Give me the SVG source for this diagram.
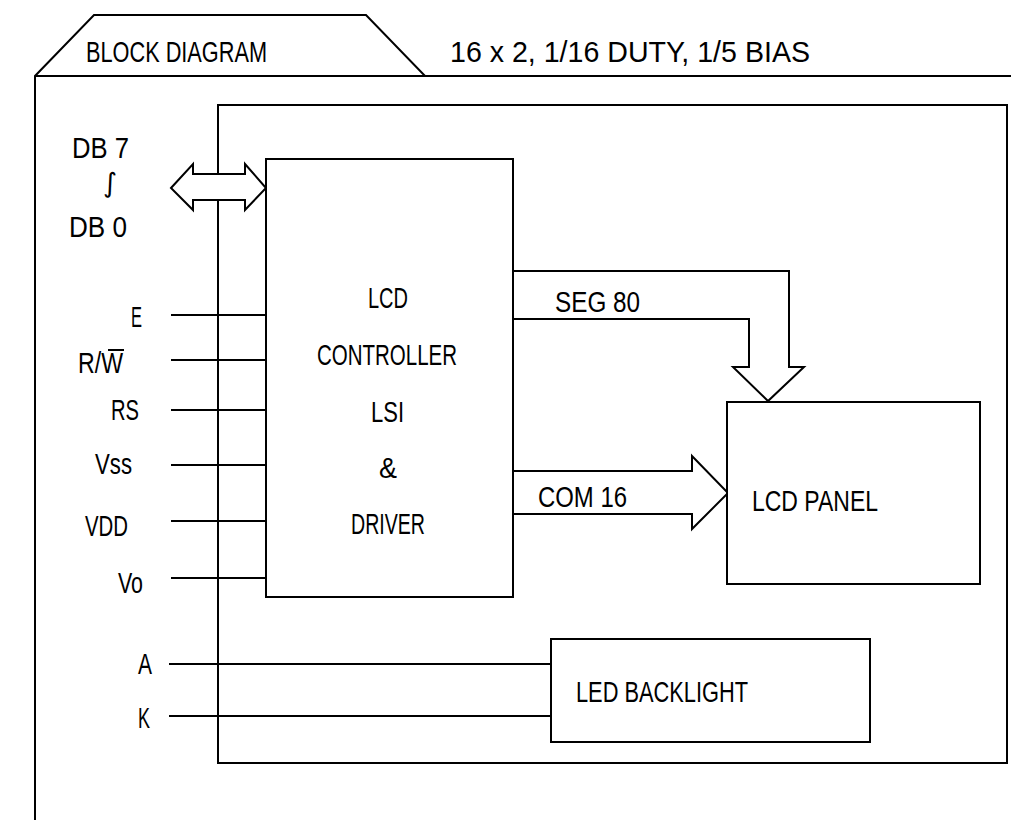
<svg xmlns="http://www.w3.org/2000/svg" width="1011" height="820" viewBox="0 0 1011 820">
<style>
.ln{fill:none;stroke:#000;stroke-width:2;stroke-linejoin:miter}
.bx{fill:#fff;stroke:#000;stroke-width:2}
text{font-family:"Liberation Sans",Arial,sans-serif;font-size:29px;fill:#000}
</style>
<rect width="1011" height="820" fill="#fff"/>
<g id="frame">
<path class="ln" d="M35,820 V76 L94,15 H366 L425,76 H1011 M35,76 H425"/>
<text x="86" y="62" textLength="181" lengthAdjust="spacingAndGlyphs">BLOCK DIAGRAM</text>
<text x="450" y="62" textLength="360" lengthAdjust="spacingAndGlyphs">16 x 2, 1/16 DUTY, 1/5 BIAS</text>
</g>
<g id="module">
<rect class="bx" x="218" y="105" width="789" height="658"/>
</g>
<g id="connectors">
<path class="ln" d="M171,315 H266 M171,360 H266 M171,410 H266 M171,465 H266 M171,521 H266 M171,578 H266 M169,664 H551 M169,716 H551"/>
<path class="ln" d="M513,271 H789 V367 H804 L768,401 L733,367 H749 V319 H513"/>
<path class="ln" d="M513,471 H692 V456 L728,493 L692,529 V514 H513"/>
<polygon class="bx" points="171,188 193,164 193,174 245,174 245,164 266,188 245,210 245,200 193,200 193,210"/>
</g>
<g id="labels">
<text x="72" y="158" textLength="57" lengthAdjust="spacingAndGlyphs">DB 7</text>
<text x="103" y="192" style="font-family:'DejaVu Sans',sans-serif;font-size:27px">∫</text>
<text x="69" y="237" textLength="58" lengthAdjust="spacingAndGlyphs">DB 0</text>
<text x="131" y="327" textLength="11" lengthAdjust="spacingAndGlyphs">E</text>
<text x="78" y="373" textLength="45" lengthAdjust="spacingAndGlyphs">R/W</text>
<line class="ln" x1="108" y1="350" x2="124" y2="350"/>
<text x="111" y="420" textLength="28" lengthAdjust="spacingAndGlyphs">RS</text>
<text x="95" y="474" textLength="37" lengthAdjust="spacingAndGlyphs">Vss</text>
<text x="85" y="536" textLength="43" lengthAdjust="spacingAndGlyphs">VDD</text>
<text x="118" y="593" textLength="25" lengthAdjust="spacingAndGlyphs">Vo</text>
<text x="138" y="674" textLength="14" lengthAdjust="spacingAndGlyphs">A</text>
<text x="138" y="728" textLength="12" lengthAdjust="spacingAndGlyphs">K</text>
<text x="555" y="312" textLength="85" lengthAdjust="spacingAndGlyphs">SEG 80</text>
<text x="538" y="507" textLength="89" lengthAdjust="spacingAndGlyphs">COM 16</text>
</g>
<g id="controller">
<rect class="bx" x="266" y="159" width="247" height="438"/>
<text x="368" y="308" textLength="40" lengthAdjust="spacingAndGlyphs">LCD</text>
<text x="317" y="365" textLength="140" lengthAdjust="spacingAndGlyphs">CONTROLLER</text>
<text x="371" y="422" textLength="33" lengthAdjust="spacingAndGlyphs">LSI</text>
<text x="379" y="478" textLength="18" lengthAdjust="spacingAndGlyphs">&amp;</text>
<text x="351" y="534" textLength="74" lengthAdjust="spacingAndGlyphs">DRIVER</text>
</g>
<g id="lcd-panel">
<rect class="bx" x="727" y="402" width="253" height="182"/>
<text x="752" y="511" textLength="126" lengthAdjust="spacingAndGlyphs">LCD PANEL</text>
</g>
<g id="led-backlight">
<rect class="bx" x="551" y="639" width="319" height="103"/>
<text x="576" y="702" textLength="172" lengthAdjust="spacingAndGlyphs">LED BACKLIGHT</text>
</g>
</svg>
